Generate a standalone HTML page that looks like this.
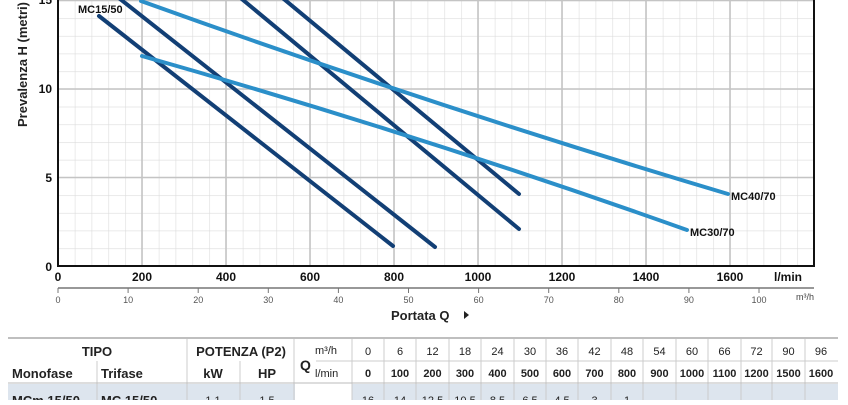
<!DOCTYPE html>
<html><head><meta charset="utf-8"><style>
body{margin:0;background:#fff;width:848px;height:400px;overflow:hidden;font-family:"Liberation Sans",sans-serif}
</style></head><body>
<svg width="848" height="400" xmlns="http://www.w3.org/2000/svg" font-family="Liberation Sans, sans-serif">
<defs>
<pattern id="g" patternUnits="userSpaceOnUse" x="58" y="266" width="16.8" height="17.7">
<path d="M0 0 V17.7 M0 0 H16.8" stroke="#dcdcdc" stroke-width="1.2" fill="none"/>
</pattern>
</defs>
<rect x="58" y="0" width="756" height="266" fill="url(#g)"/>
<g stroke="#c4c4c4" stroke-width="1.6">
<line x1="142" y1="0" x2="142" y2="266"/><line x1="226" y1="0" x2="226" y2="266"/><line x1="310" y1="0" x2="310" y2="266"/><line x1="394" y1="0" x2="394" y2="266"/><line x1="478" y1="0" x2="478" y2="266"/><line x1="562" y1="0" x2="562" y2="266"/><line x1="646" y1="0" x2="646" y2="266"/><line x1="730" y1="0" x2="730" y2="266"/>
<line x1="58" y1="177.5" x2="814" y2="177.5"/><line x1="58" y1="89" x2="814" y2="89"/><line x1="58" y1="0.5" x2="814" y2="0.5"/>
</g>
<g stroke="#111" stroke-width="2" fill="none">
<line x1="58" y1="0" x2="58" y2="267"/>
<line x1="57" y1="266" x2="815" y2="266"/>
<line x1="814" y1="0" x2="814" y2="267"/>
</g>
<g stroke-width="4" stroke-linecap="round" fill="none">
<line x1="99" y1="16" x2="393" y2="246" stroke="#123f75"/>
<line x1="115" y1="-5" x2="435" y2="247" stroke="#123f75"/>
<line x1="237" y1="-5" x2="519" y2="229" stroke="#123f75"/>
<line x1="279" y1="-5" x2="519" y2="194" stroke="#123f75"/>
<path d="M141 1 Q430 105 728 194" stroke="#2b8fc9"/>
<path d="M142 56 Q420 135 687 230" stroke="#2b8fc9"/>
</g>
<g font-size="11" font-weight="bold" fill="#111">
<text x="78" y="13">MC15/50</text>
<text x="731" y="200">MC40/70</text>
<text x="690" y="236">MC30/70</text>
</g>
<g font-size="12" font-weight="bold" fill="#111" text-anchor="end">
<text x="52" y="4">15</text><text x="52" y="93">10</text><text x="52" y="182">5</text><text x="52" y="271">0</text>
</g>
<text transform="translate(27,127) rotate(-90)" font-size="13" font-weight="bold" fill="#222">Prevalenza  H  (metri)</text>
<g font-size="12" font-weight="bold" fill="#111" text-anchor="middle">
<text x="58" y="281">0</text><text x="142" y="281">200</text><text x="226" y="281">400</text><text x="310" y="281">600</text><text x="394" y="281">800</text><text x="478" y="281">1000</text><text x="562" y="281">1200</text><text x="646" y="281">1400</text><text x="730" y="281">1600</text>
</g>
<text x="774" y="281" font-size="12" font-weight="bold" fill="#111">l/min</text>
<line x1="58" y1="288" x2="814" y2="288" stroke="#777" stroke-width="1.5"/>
<g stroke="#777">
<line x1="58" y1="288" x2="58" y2="293"/><line x1="128.1" y1="288" x2="128.1" y2="293"/><line x1="198.2" y1="288" x2="198.2" y2="293"/><line x1="268.3" y1="288" x2="268.3" y2="293"/><line x1="338.4" y1="288" x2="338.4" y2="293"/><line x1="408.5" y1="288" x2="408.5" y2="293"/><line x1="478.6" y1="288" x2="478.6" y2="293"/><line x1="548.7" y1="288" x2="548.7" y2="293"/><line x1="618.8" y1="288" x2="618.8" y2="293"/><line x1="688.9" y1="288" x2="688.9" y2="293"/><line x1="759" y1="288" x2="759" y2="293"/>
</g>
<g font-size="9" fill="#555" text-anchor="middle">
<text x="58" y="303">0</text><text x="128.1" y="303">10</text><text x="198.2" y="303">20</text><text x="268.3" y="303">30</text><text x="338.4" y="303">40</text><text x="408.5" y="303">50</text><text x="478.6" y="303">60</text><text x="548.7" y="303">70</text><text x="618.8" y="303">80</text><text x="688.9" y="303">90</text><text x="759" y="303">100</text>
</g>
<text x="796" y="300" font-size="9" fill="#444">m³/h</text>
<text x="391" y="320" font-size="13" font-weight="bold" fill="#222">Portata  Q</text>
<path d="M464 311 L469 315 L464 319 Z" fill="#222"/>
<!-- table -->
<line x1="8" y1="338" x2="838" y2="338" stroke="#aaa" stroke-width="1.5"/>
<rect x="8" y="384" width="830" height="20" fill="#dde5ee"/>
<rect x="295" y="384" width="57" height="20" fill="#fff"/>
<g stroke="#ccc" stroke-width="1">
<line x1="97" y1="361" x2="97" y2="400"/>
<line x1="187" y1="339" x2="187" y2="400"/>
<line x1="240" y1="361" x2="240" y2="400"/>
<line x1="294" y1="339" x2="294" y2="400"/>
<line x1="352" y1="339" x2="352" y2="400"/>
<line x1="384" y1="339" x2="384" y2="400"/><line x1="416" y1="339" x2="416" y2="400"/><line x1="449" y1="339" x2="449" y2="400"/><line x1="481" y1="339" x2="481" y2="400"/><line x1="514" y1="339" x2="514" y2="400"/><line x1="546" y1="339" x2="546" y2="400"/><line x1="578" y1="339" x2="578" y2="400"/><line x1="611" y1="339" x2="611" y2="400"/><line x1="643" y1="339" x2="643" y2="400"/><line x1="676" y1="339" x2="676" y2="400"/><line x1="708" y1="339" x2="708" y2="400"/><line x1="741" y1="339" x2="741" y2="400"/><line x1="772" y1="339" x2="772" y2="400"/><line x1="805" y1="339" x2="805" y2="400"/>
<line x1="8" y1="383" x2="838" y2="383" stroke="#bbb"/>
<line x1="316" y1="361" x2="838" y2="361"/>
</g>
<g font-size="11" fill="#222" text-anchor="middle">
<text x="368" y="355">0</text><text x="400" y="355">6</text><text x="432.5" y="355">12</text><text x="465" y="355">18</text><text x="497.5" y="355">24</text><text x="530" y="355">30</text><text x="562" y="355">36</text><text x="594.5" y="355">42</text><text x="627" y="355">48</text><text x="659.5" y="355">54</text><text x="692" y="355">60</text><text x="724.5" y="355">66</text><text x="756.5" y="355">72</text><text x="788.5" y="355">90</text><text x="821" y="355">96</text>
</g>
<g font-size="11" font-weight="bold" fill="#222" text-anchor="middle">
<text x="368" y="377">0</text><text x="400" y="377">100</text><text x="432.5" y="377">200</text><text x="465" y="377">300</text><text x="497.5" y="377">400</text><text x="530" y="377">500</text><text x="562" y="377">600</text><text x="594.5" y="377">700</text><text x="627" y="377">800</text><text x="659.5" y="377">900</text><text x="692" y="377">1000</text><text x="724.5" y="377">1100</text><text x="756.5" y="377">1200</text><text x="788.5" y="377">1500</text><text x="821" y="377">1600</text>
</g>
<g font-size="11" fill="#222" text-anchor="middle">
<text x="368" y="404">16</text><text x="400" y="404">14</text><text x="432.5" y="404">12.5</text><text x="465" y="404">10.5</text><text x="497.5" y="404">8.5</text><text x="530" y="404">6.5</text><text x="562" y="404">4.5</text><text x="594.5" y="404">3</text><text x="627" y="404">1</text>
</g>
<g fill="#222" font-weight="bold">
<text x="97" y="356" font-size="13" text-anchor="middle">TIPO</text>
<text x="241" y="356" font-size="13" text-anchor="middle">POTENZA (P2)</text>
<text x="12" y="378" font-size="13">Monofase</text>
<text x="101" y="378" font-size="13">Trifase</text>
<text x="213" y="378" font-size="13" text-anchor="middle">kW</text>
<text x="267" y="378" font-size="13" text-anchor="middle">HP</text>
<text x="300" y="370" font-size="14">Q</text>
<text x="12" y="405" font-size="13">MCm 15/50</text>
<text x="101" y="405" font-size="13">MC 15/50</text>
</g>
<g fill="#222" font-size="11">
<text x="315" y="354">m³/h</text>
<text x="315" y="377">l/min</text>
<text x="213" y="404" text-anchor="middle">1.1</text>
<text x="267" y="404" text-anchor="middle">1.5</text>
</g>
</svg>
</body></html>
